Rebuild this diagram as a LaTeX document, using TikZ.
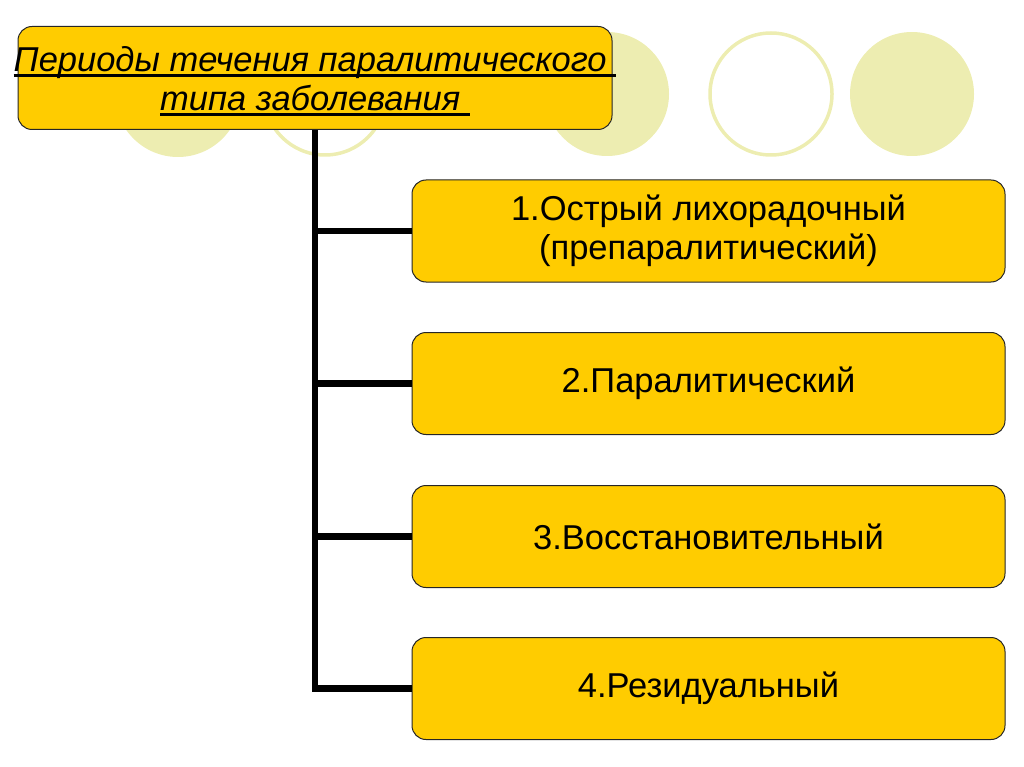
\documentclass[tikz,border=0pt]{standalone}
\usepackage{fontspec}
\setmainfont{Liberation Sans}
\newsavebox{\ulbox}
\newcommand{\headrule}[1]{\sbox{\ulbox}{#1}\makebox[0pt]{\rlap{\rule[-5.8pt]{\wd\ulbox}{2.5pt}}\usebox{\ulbox}}}
\definecolor{gold}{HTML}{FFCC00}
\definecolor{pale}{HTML}{EDEDB1}
\tikzset{
  periodbox/.style={draw=black!85, line width=1pt, fill=gold, rounded corners=14pt,
    minimum width=593pt, minimum height=102pt, align=center, inner sep=0pt},
  trunk/.style={line width=6.5pt},
}

\begin{document}
\begin{tikzpicture}[x=1pt,y=-1pt]
  % Page frame, in pixels of the slide (1024 x 767).
  \useasboundingbox (0,0) rectangle (1024,767);
  % Pale circles along the top edge.
  \fill[pale] (178,94) circle (63);
  \draw[pale, line width=3.5pt] (325,94) circle (61);
  \fill[pale] (607,94) circle (62);
  \draw[pale, line width=3.5pt] (771,94) circle (61);
  \fill[pale] (912,94) circle (62);
  % Heading box (the underlined lines are wider than the box may grow).
  \node[periodbox, minimum width=594pt, minimum height=103pt,
    font=\itshape\fontsize{34.5}{39}\selectfont] (title) at (315,78)
    {\rule{0pt}{31pt}\headrule{Периоды течения паралитического\ }\\\headrule{типа заболевания\ }};
  % The four periods, one under the other.
  \foreach \i/\y/\txt in {1/231/{1.Острый лихорадочный\\(препаралитический)},
      2/383.5/{2.Паралитический}, 3/536.5/{3.Восстановительный}, 4/688.5/{4.Резидуальный}}
    \node[periodbox, font=\fontsize{34.5}{39}\selectfont] (b\i) at (708.5,\y) {\txt};
  % Trunk from the heading down to the last box, with branches.
  \draw[trunk] (title.south) |- (b4.west);
  \foreach \i in {1,2,3}
    \draw[trunk] (title.south |- b\i.west) -- (b\i.west);
\end{tikzpicture}
\end{document}
